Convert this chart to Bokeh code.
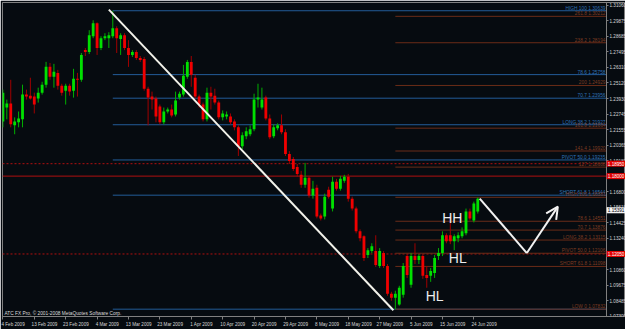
from bokeh.plotting import figure
from bokeh.models import Range1d, FixedTicker, Label, Arrow, OpenHead, ColumnDataSource, PrintfTickFormatter, LinearAxis
from bokeh.embed import file_html
from bokeh.resources import INLINE
from bokeh.core.properties import value

# ---------------- data (daily candles) ----------------
opens = [1.2218,1.2324,1.2355,1.2188,1.2211,1.2234,1.2423,1.2415,1.2408,1.2393,
         1.2438,1.2499,1.2635,1.2559,1.2589,1.2491,1.2453,1.2491,1.2453,1.2544,
         1.2536,1.2763,1.2748,1.2869,1.2968,1.2779,1.2854,1.2854,1.2869,1.2930,
         1.2847,1.2877,1.2779,1.2726,1.2748,1.2703,1.2695,1.2468,1.2408,1.2393,
         1.2332,1.2211,1.2294,1.2309,1.2271,1.2400,1.2423,1.2559,1.2673,1.2552,
         1.2408,1.2347,1.2234,1.2438,1.2415,1.2362,1.2249,1.2256,1.2256,1.2218,
         1.2173,1.2029,1.2105,1.2120,1.2158,1.2385,1.2324,1.2400,1.2241,1.2105,
         1.2165,1.2188,1.2135,1.1969,1.1931,1.1870,1.1810,1.1734,1.1787,1.1651,
         1.1711,1.1499,1.1492,1.1696,1.1552,1.1757,1.1704,1.1764,1.1795,1.1628,
         1.1552,1.1378,1.1340,1.1197,1.1227,1.1227,1.1113,1.1212,1.1113,1.0901,
         1.0871,1.0818,1.0894,1.1189,1.0969,1.1189,1.1159,1.1189,1.1045,1.1038,
         1.1060,1.1189,1.1212,1.1348,1.1348,1.1302,1.1325,1.1340,1.1363,1.1530,
         1.1461,1.1530]
highs = [1.2461,1.2385,1.2536,1.2249,1.2294,1.2499,1.2461,1.2552,1.2438,1.2476,
         1.2521,1.2673,1.2665,1.2658,1.2612,1.2506,1.2506,1.2506,1.2620,1.2589,
         1.2741,1.2779,1.2915,1.2991,1.2975,1.2869,1.2892,1.2900,1.3064,1.2945,
         1.2892,1.2892,1.2839,1.2763,1.2763,1.2718,1.2711,1.2483,1.2446,1.2408,
         1.2347,1.2324,1.2324,1.2347,1.2446,1.2446,1.2650,1.2688,1.2718,1.2574,
         1.2423,1.2362,1.2476,1.2483,1.2468,1.2377,1.2302,1.2294,1.2279,1.2234,
         1.2188,1.2135,1.2173,1.2188,1.2430,1.2506,1.2476,1.2415,1.2271,1.2196,
         1.2203,1.2271,1.2158,1.1991,1.1946,1.1893,1.1840,1.1901,1.1802,1.1764,
         1.1734,1.1514,1.1666,1.1719,1.1795,1.1779,1.1802,1.1810,1.1817,1.1643,
         1.1567,1.1393,1.1348,1.1250,1.1287,1.1348,1.1250,1.1227,1.1128,1.0916,
         1.0924,1.0962,1.1136,1.1204,1.1212,1.1287,1.1204,1.1204,1.1113,1.1098,
         1.1197,1.1250,1.1378,1.1363,1.1499,1.1355,1.1371,1.1408,1.1552,1.1552,
         1.1605,1.1636]
lows = [1.2173,1.2234,1.2173,1.2120,1.2173,1.2173,1.2385,1.2385,1.2279,1.2362,
        1.2423,1.2476,1.2536,1.2476,1.2461,1.2415,1.2347,1.2415,1.2400,1.2408,
        1.2521,1.2718,1.2733,1.2854,1.2726,1.2763,1.2839,1.2779,1.2854,1.2741,
        1.2726,1.2763,1.2635,1.2711,1.2688,1.2673,1.2453,1.2188,1.2309,1.2211,
        1.2196,1.2196,1.2279,1.2249,1.2256,1.2385,1.2408,1.2544,1.2483,1.2393,
        1.2324,1.2218,1.2218,1.2309,1.2347,1.2234,1.2226,1.2234,1.2196,1.2150,
        1.1954,1.2007,1.2082,1.2105,1.2143,1.2324,1.2309,1.2226,1.2082,1.2090,
        1.2150,1.2120,1.1954,1.1893,1.1840,1.1795,1.1711,1.1711,1.1636,1.1628,
        1.1477,1.1461,1.1469,1.1628,1.1530,1.1689,1.1689,1.1749,1.1605,1.1537,
        1.1363,1.1302,1.1151,1.1174,1.1212,1.1106,1.1098,1.1098,1.0886,1.0848,
        1.0783,1.0810,1.0871,1.1022,1.0947,1.1128,1.1128,1.1015,1.0947,1.0992,
        1.1022,1.1159,1.1189,1.1287,1.1280,1.1234,1.1295,1.1325,1.1348,1.1461,
        1.1446,1.1514]
closes = [1.2438,1.2355,1.2196,1.2218,1.2241,1.2423,1.2408,1.2393,1.2347,1.2438,
          1.2499,1.2635,1.2559,1.2597,1.2491,1.2438,1.2491,1.2446,1.2544,1.2536,
          1.2726,1.2748,1.2877,1.2968,1.2779,1.2854,1.2869,1.2877,1.2930,1.2854,
          1.2877,1.2779,1.2726,1.2748,1.2703,1.2688,1.2468,1.2400,1.2385,1.2256,
          1.2211,1.2294,1.2309,1.2264,1.2377,1.2430,1.2567,1.2673,1.2574,1.2408,
          1.2347,1.2234,1.2438,1.2408,1.2362,1.2249,1.2279,1.2271,1.2211,1.2173,
          1.2029,1.2112,1.2143,1.2158,1.2385,1.2400,1.2385,1.2241,1.2097,1.2173,
          1.2188,1.2135,1.1969,1.1916,1.1855,1.1817,1.1734,1.1787,1.1651,1.1704,
          1.1492,1.1477,1.1643,1.1643,1.1757,1.1704,1.1779,1.1795,1.1628,1.1552,
          1.1378,1.1325,1.1174,1.1234,1.1265,1.1121,1.1227,1.1113,1.0901,1.0871,
          1.0901,1.0947,1.1113,1.1045,1.1189,1.1159,1.1189,1.1038,1.1022,1.1075,
          1.1174,1.1212,1.1348,1.1302,1.1302,1.1340,1.1348,1.1378,1.1530,1.1477,
          1.1590,1.1628]

date_tick_bars = [0, 8, 16, 24, 32, 40, 48, 56, 64, 72, 80, 88, 96, 104, 112, 120]
date_labels = ["4 Feb 2009", "13 Feb 2009", "23 Feb 2009", "4 Mar 2009", "13 Mar 2009",
               "23 Mar 2009", "1 Apr 2009", "10 Apr 2009", "20 Apr 2009", "29 Apr 2009",
               "8 May 2009", "18 May 2009", "27 May 2009", "5 Jun 2009", "15 Jun 2009",
               "24 Jun 2009"]

price_ticks = [1.07300, 1.08485, 1.09675, 1.10860, 1.12050, 1.13240, 1.14425, 1.15615,
               1.16800, 1.17990, 1.19180, 1.20365, 1.21555, 1.22745, 1.23930, 1.25120,
               1.26310, 1.27495, 1.28685, 1.29875, 1.31060]

# Fibonacci set 1 (blue) drawn from the March high
blue_start_bar = 28
blue_levels = [1.30639, 1.25758, 1.23956, 1.21927, 1.19235, 1.16544, 1.07832]
blue_labels = ["HIGH 100 1.30639", "78.6 1.25758", "70.7 1.23956", "LONG 38.2 1.21927",
               "PIVOT 50.0 1.19235", "SHORT 61.8 1.16544", ""]

# Fibonacci set 2 (brown) drawn from the June low
brown_start_bar = 100
brown_levels = [1.30212, 1.28194, 1.24929, 1.21664, 1.19920, 1.18688, 1.16381,
                1.14551, 1.13876, 1.13115, 1.12106, 1.11098, 1.07832]
brown_labels = ["261.8 1.30212", "238.2 1.28194", "200 1.24929", "161.8 1.21664",
                "141.4 1.19920", "127 1.18688", "HIGH 100 1.16381", "78.6 1.14551",
                "70.7 1.13876", "LONG 38.2 1.13115", "PIVOT 50.0 1.12106",
                "SHORT 61.8 1.11098", "LOW 0 1.07832"]

red_dotted_levels = [1.1895, 1.1205]
red_solid_levels = [1.1800]
red_box_levels = [1.1895, 1.1800, 1.1205]
red_box_texts = ["1.18950", "1.18000", "1.12050"]
bid_levels = [1.1539]
bid_texts = ["1.15391"]

trend_x = [27.0, 99.5]
trend_y = [1.3072, 1.0775]
zig_x = [121.5, 133.5, 141.4]
zig_y = [1.1628, 1.1212, 1.1567]

swing_texts = ["HH", "HL", "HL"]
swing_x = [114.5, 115.9, 110.0]
swing_y = [1.1477, 1.1174, 1.0886]

# ---------------- styling ----------------
BG = "#060b10"
GRID_GRAY = "#808080"
BULL_BODY = "#00e000"
BULL_WICK = "#00b000"
BEAR_BODY = "#f00000"
BEAR_WICK = "#a00000"
BLUE = "#235c98"
BLUE_TXT = "#2f72b8"
BROWN = "#6a2c18"
BROWN_TXT = "#7e3c22"
RED_LINE = "#b01010"
FONT = "Liberation Sans"

X0 = -0.1
CHART_END = 153.8          # where the price scale line sits
X_END = 158.64             # frame also covers the price-scale strip
Y0, Y1 = 1.07272, 1.31269
BOX_X = CHART_END + 2.45   # centre of the price boxes in the scale strip

p = figure(width=625, height=329, output_backend="svg", toolbar_location=None,
           x_range=Range1d(X0, X_END), y_range=Range1d(Y0, Y1),
           y_axis_location=None, min_border_left=2, min_border_top=2,
           min_border_right=0, min_border_bottom=0)
p.background_fill_color = BG
p.border_fill_color = BG
p.outline_line_color = GRID_GRAY
p.outline_line_width = 1
p.grid.visible = False

# right price axis, pinned at the chart end
ya = LinearAxis(ticker=FixedTicker(ticks=price_ticks), fixed_location=CHART_END)
ya.formatter = PrintfTickFormatter(format="%.5f")
ya.axis_line_color = GRID_GRAY
ya.major_tick_line_color = GRID_GRAY
ya.major_tick_out = 2
ya.major_tick_in = 0
ya.minor_tick_out = 0
ya.minor_tick_in = 0
ya.major_label_standoff = 1
ya.major_label_text_font = FONT
ya.major_label_text_font_size = "4.6px"
ya.major_label_text_color = "#d6d6d6"
p.add_layout(ya, "right")

# bottom date axis (labels start to the right of the tick, like MetaTrader)
label_shift = 2.6
label_pos = [b + label_shift for b in date_tick_bars]
xa = p.xaxis[0]
xa.ticker = FixedTicker(ticks=label_pos, minor_ticks=date_tick_bars)
xa.major_label_overrides = {pos: lab for pos, lab in zip(label_pos, date_labels)}
xa.axis_line_color = GRID_GRAY
xa.major_tick_out = 0
xa.major_tick_in = 0
xa.minor_tick_line_color = GRID_GRAY
xa.minor_tick_out = 3
xa.minor_tick_in = 0
xa.major_label_standoff = 2
xa.major_label_text_font = FONT
xa.major_label_text_font_size = "4.6px"
xa.major_label_text_color = "#d6d6d6"

# full-width red lines
for lv in red_dotted_levels:
    p.segment(x0=X0, x1=CHART_END, y0=lv, y1=lv, line_color=RED_LINE, line_width=1, line_dash="2 2")
for lv in red_solid_levels:
    p.segment(x0=X0, x1=CHART_END, y0=lv, y1=lv, line_color=RED_LINE, line_width=1)

# fibonacci lines
p.segment(x0=[blue_start_bar] * len(blue_levels), x1=[CHART_END] * len(blue_levels),
          y0=blue_levels, y1=blue_levels, line_color=BLUE, line_width=1)
p.segment(x0=[brown_start_bar] * len(brown_levels), x1=[CHART_END] * len(brown_levels),
          y0=brown_levels, y1=brown_levels, line_color=BROWN, line_width=1)

# candles
n = len(opens)
xs = list(range(n))
up = [i for i in range(n) if closes[i] >= opens[i]]
dn = [i for i in range(n) if closes[i] < opens[i]]

def src(idx):
    return ColumnDataSource(dict(
        x=[xs[i] for i in idx],
        high=[highs[i] for i in idx],
        low=[lows[i] for i in idx],
        top=[max(opens[i], closes[i]) for i in idx],
        bottom=[min(opens[i], closes[i]) for i in idx],
    ))

s_up, s_dn = src(up), src(dn)
p.segment(x0="x", x1="x", y0="high", y1="low", source=s_up, line_color=BULL_WICK, line_width=1)
p.segment(x0="x", x1="x", y0="high", y1="low", source=s_dn, line_color=BEAR_WICK, line_width=1)
p.vbar(x="x", width=0.72, top="top", bottom="bottom", source=s_up,
       fill_color=BULL_BODY, line_color=None)
p.vbar(x="x", width=0.72, top="top", bottom="bottom", source=s_dn,
       fill_color=BEAR_BODY, line_color=None)

# fib labels (right aligned at the end of the lines)
p.text(x=[CHART_END] * len(blue_levels), y=blue_levels, text=blue_labels, x_offset=-1,
       text_align="right", text_baseline="bottom", text_font=value(FONT),
       text_font_size="4.8px", text_color=BLUE_TXT)
p.text(x=[CHART_END] * len(brown_levels), y=brown_levels, text=brown_labels, x_offset=-1,
       text_align="right", text_baseline="bottom", text_font=value(FONT),
       text_font_size="4.8px", text_color=BROWN_TXT)

# trend line
p.line(trend_x, trend_y, line_color="#f2f2ea", line_width=2)

# projected zig-zag with arrow
p.line(zig_x[:2], zig_y[:2], line_color="#f2f2f2", line_width=2)
p.add_layout(Arrow(x_start=zig_x[1], y_start=zig_y[1], x_end=zig_x[2], y_end=zig_y[2],
                   line_color="#f2f2f2", line_width=2,
                   end=OpenHead(size=12, line_color="#f2f2f2", line_width=2)))

# swing labels
p.text(x=swing_x, y=swing_y, text=swing_texts, text_align="center", text_baseline="middle",
       text_font=value(FONT), text_font_size="14px", text_color="#ececec")

# price boxes on the price scale
p.rect(x=[BOX_X] * len(red_box_levels), y=red_box_levels, width=19, height=6,
       width_units="screen", height_units="screen", fill_color="#e00000",
       line_color=None, level="overlay")
p.text(x=[BOX_X] * len(red_box_levels), y=red_box_levels, text=red_box_texts,
       text_align="center", text_baseline="middle", text_font=value(FONT),
       text_font_size="4.6px", text_color="#ffffff", level="overlay")
p.rect(x=[BOX_X] * len(bid_levels), y=bid_levels, width=19, height=6,
       width_units="screen", height_units="screen", fill_color="#f4f4f4",
       line_color=None, level="overlay")
p.text(x=[BOX_X] * len(bid_levels), y=bid_levels, text=bid_texts,
       text_align="center", text_baseline="middle", text_font=value(FONT),
       text_font_size="4.6px", text_color="#000000", level="overlay")

# copyright line
p.add_layout(Label(x=X0, y=Y0, x_offset=2, y_offset=1,
                   text="ATC FX Pro, \u00a9 2001-2008 MetaQuotes Software Corp.",
                   text_font=FONT, text_font_size="4.8px", text_color="#dcdcdc",
                   text_baseline="bottom"))

open("out.html", "w").write(file_html(p, INLINE))
